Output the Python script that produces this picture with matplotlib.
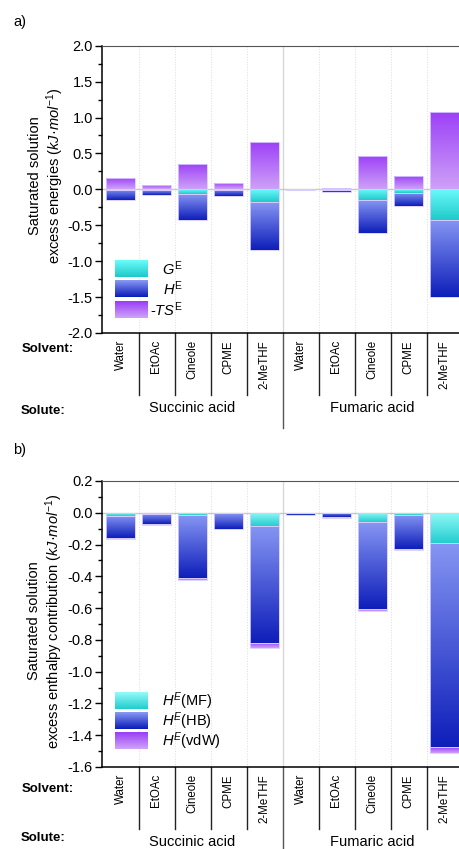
import numpy as np
import matplotlib
matplotlib.use('Agg')
import matplotlib.pyplot as plt
from matplotlib.colors import LinearSegmentedColormap

plt.rcParams['font.family'] = ['Liberation Sans', 'DejaVu Sans']
plt.rcParams['mathtext.fontset'] = 'custom'
plt.rcParams['mathtext.rm'] = 'Liberation Sans'
plt.rcParams['mathtext.it'] = 'Liberation Sans:italic'
plt.rcParams['axes.unicode_minus'] = False

solvents = ['Water', 'EtOAc', 'Cineole', 'CPME', '2-MeTHF']
solutes = ['Succinic acid', 'Fumaric acid']

# panel a: excess energies (kJ/mol), succinic then fumaric
G_E = [-0.008, -0.012, -0.069, -0.012, -0.180,
       -0.004, -0.008, -0.153, -0.046, -0.421]
H_E = [-0.153, -0.079, -0.421, -0.097, -0.838,
       -0.015, -0.032, -0.611, -0.227, -1.495]
mTS_E = [0.162, 0.060, 0.352, 0.088, 0.657,
         0.004, 0.023, 0.463, 0.185, 1.074]

# panel b: enthalpy contributions (kJ/mol)
H_MF = [-0.021, -0.006, -0.017, -0.004, -0.084,
        -0.002, -0.003, -0.059, -0.015, -0.189]
H_HB = [-0.139, -0.063, -0.395, -0.095, -0.737,
        -0.015, -0.026, -0.544, -0.214, -1.288]
H_vdW = [-0.002, -0.009, -0.012, -0.003, -0.032,
         0.0, -0.002, -0.013, -0.004, -0.036]

CYAN = ('#6cfcfc', '#1ec8c8')
CYAN_B = ('#96fbfb', '#20cccc')
BLUE = ('#8a9af5', '#0a1ab8')
PURP = ('#9a3cf7', '#d0a4f7')
EDGE = '#d8ccff'

W, H = 460, 849
fig = plt.figure(figsize=(W / 100, H / 100), dpi=100)


def px_axes(left, top, right, bottom):
    return fig.add_axes([left / W, 1 - bottom / H, (right - left) / W, (bottom - top) / H])


def grad_img(ax, x0, x1, y0, y1, c_top, c_bot, transform=None, z=2, clip=None):
    cmap = LinearSegmentedColormap.from_list('g', [c_bot, c_top])
    kw = {}
    if transform is not None:
        kw['transform'] = transform
    pad = 0.03 * (y1 - y0)
    im = ax.imshow(np.linspace(0, 1, 256)[:, None], cmap=cmap, origin='lower',
                   extent=[x0 - 0.02, x1 + 0.02, y0 - pad, y1 + pad] if clip is not None else [x0, x1, y0, y1],
                   aspect='auto', interpolation='nearest', zorder=z, **kw)
    if clip is not None:
        im.set_clip_path(clip)
    return im


def grad_bars(ax, x, heights, bottoms, c_top, c_bot):
    bars = ax.bar(x, heights, bottom=bottoms, width=0.8, facecolor='none',
                  edgecolor=EDGE, linewidth=0.6, zorder=3)
    for b in bars:
        h = b.get_height()
        if abs(h) < 1e-9:
            continue
        y0 = b.get_y()
        grad_img(ax, b.get_x(), b.get_x() + b.get_width(), min(y0, y0 + h), max(y0, y0 + h),
                 c_top, c_bot, clip=b)


def style_axes(ax, ylim, major, minor):
    n = len(solvents) * len(solutes)
    ax.set_xlim(-0.5, n - 0.5)
    ax.set_ylim(*ylim)
    ax.set_yticks(np.round(np.arange(ylim[0], ylim[1] + 1e-9, major), 2) + 0.0)
    ax.set_yticks(np.round(np.arange(ylim[0], ylim[1] + 1e-9, minor), 2), minor=True)
    ax.yaxis.set_major_formatter(plt.FuncFormatter(lambda v, p: '%.1f' % (v + 0.0 if abs(v) > 1e-9 else 0.0)))
    ax.tick_params(axis='y', which='major', direction='out', length=5, width=1, labelsize=10.5, pad=2)
    ax.tick_params(axis='y', which='minor', direction='out', length=3, width=1)
    ax.set_xticks([])
    ax.spines['right'].set_visible(False)
    ax.spines['top'].set_color('#555555')
    for s in ('left', 'bottom'):
        ax.spines[s].set_linewidth(1.1)
    for k in range(1, n):
        if k == len(solvents):
            ax.axvline(k - 0.5, color='#d8d8d8', lw=1.0, zorder=1)
        else:
            ax.axvline(k - 0.5, color='#dcdcdc', lw=0.7, ls=':', zorder=1)
    ax.axhline(0, color='#c8c8c8', lw=1.0, zorder=1)

    tr = ax.get_xaxis_transform()
    bbox = ax.get_position()
    axh_px = bbox.height * H
    for i in range(n):
        ax.text(i, -7 / axh_px, solvents[i % len(solvents)], transform=tr, rotation=90,
                ha='center', va='top', fontsize=8.3)
    for k in range(1, n):
        low = -95 / axh_px if k == len(solvents) else -62 / axh_px
        ax.plot([k - 0.5, k - 0.5], [0, low], transform=tr, color='#222222' if k != len(solvents) else '#555555',
                lw=1.0, clip_on=False)
    for j, s in enumerate(solutes):
        ax.text(j * len(solvents) + (len(solvents) - 1) / 2, -75 / axh_px, s, transform=tr,
                ha='center', va='center', fontsize=10.5)


# ---------- panel a ----------
axa = px_axes(102.5, 45.7, 462.5, 333)
x = np.arange(len(G_E))
G = np.array(G_E)
Hh = np.array(H_E)
grad_bars(axa, x, mTS_E, 0, *PURP)
grad_bars(axa, x, Hh - G, G, *BLUE)
grad_bars(axa, x, G, 0, *CYAN)
style_axes(axa, (-2.0, 2.0), 0.5, 0.25)

leg_a = [(r'$\mathit{G}^{\mathrm{E}}$', CYAN), (r'$\mathit{H}^{\mathrm{E}}$', BLUE),
         (r'-$\mathit{TS}^{\mathrm{E}}$', PURP)]
for i, (lab, (ct, cb)) in enumerate(leg_a):
    y_top = 0.254 - i * 0.0715
    y_bot = y_top - 0.058
    grad_img(axa, 0.035, 0.126, y_bot, y_top, ct, cb, transform=axa.transAxes, z=4)
    axa.text(0.224, (y_top + y_bot) / 2, lab, transform=axa.transAxes, ha='right', va='center',
             fontsize=10.5, zorder=5)
axa.set_xlim(-0.5, 9.5)
axa.set_ylim(-2.0, 2.0)

# ---------- panel b ----------
axb = px_axes(102.5, 481, 462.5, 767)
mf = np.array(H_MF)
hb = np.array(H_HB)
vdw = np.array(H_vdW)
grad_bars(axb, x, mf, 0, *CYAN_B)
grad_bars(axb, x, hb, mf, *BLUE)
grad_bars(axb, x, vdw, mf + hb, *PURP)
style_axes(axb, (-1.6, 0.2), 0.2, 0.1)

leg_b = [(r'$\mathit{H}^{\mathit{E}}$(MF)', CYAN_B), (r'$\mathit{H}^{\mathit{E}}$(HB)', BLUE),
         (r'$\mathit{H}^{\mathit{E}}$(vdW)', PURP)]
for i, (lab, (ct, cb)) in enumerate(leg_b):
    y_top = 0.259 - i * 0.07
    y_bot = y_top - 0.056
    grad_img(axb, 0.035, 0.126, y_bot, y_top, ct, cb, transform=axb.transAxes, z=4)
    axb.text(0.165, (y_top + y_bot) / 2, lab, transform=axb.transAxes, ha='left', va='center',
             fontsize=10.5, zorder=5)
axb.set_xlim(-0.5, 9.5)
axb.set_ylim(-1.6, 0.2)

# ---------- labels outside axes ----------
def ftext(xp, yp, s, **kw):
    fig.text(xp / W, 1 - yp / H, s, **kw)


ftext(47, 176, 'Saturated solution\nexcess energies ' + r'$\mathit{(kJ·mol^{-1})}$',
      rotation=90, ha='center', va='center', multialignment='center', fontsize=10.5)
ftext(46, 621, 'Saturated solution\nexcess enthalpy contribution ' + r'$\mathit{(kJ·mol^{-1})}$',
      rotation=90, ha='center', va='center', multialignment='center', fontsize=10.5)
ftext(13, 22, 'a)', ha='left', va='center', fontsize=10.5)
ftext(13, 450, 'b)', ha='left', va='center', fontsize=10.5)
for yoff in (0, 440):
    ftext(22, 349 + yoff, 'Solvent:', ha='left', va='center', fontsize=9.5, fontweight='bold')
ftext(21, 411, 'Solute:', ha='left', va='center', fontsize=9.5, fontweight='bold')
ftext(21, 838, 'Solute:', ha='left', va='center', fontsize=9.5, fontweight='bold')

fig.savefig('out.png', dpi=100)
